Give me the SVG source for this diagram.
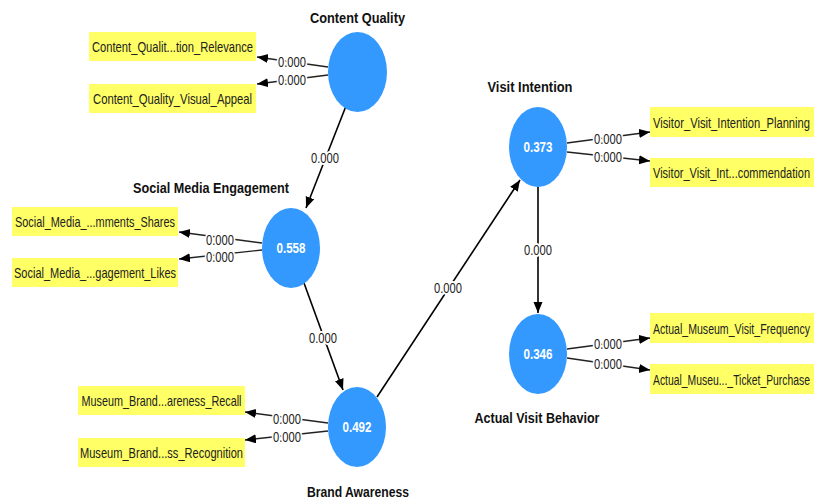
<svg xmlns="http://www.w3.org/2000/svg" width="814" height="504" viewBox="0 0 814 504">
<defs>
<marker id="ah" markerUnits="userSpaceOnUse" markerWidth="12" markerHeight="10" refX="11" refY="4.5" orient="auto">
<path d="M0,0 L11,4.5 L0,9 z" fill="#000"/>
</marker>
<style>
.lv{fill:#3399ff}
.box{fill:#ffff66}
.ind{font-family:"Liberation Sans",Arial,sans-serif;font-size:15px;fill:#222;text-anchor:middle}
.indr{font-family:"Liberation Sans",Arial,sans-serif;font-size:11px;fill:#222;text-anchor:middle}
.inds{font-family:"Liberation Sans",Arial,sans-serif;font-size:10px;fill:#222;text-anchor:middle}
.title{font-family:"Liberation Sans",Arial,sans-serif;font-size:15px;font-weight:bold;fill:#111;text-anchor:middle}
.val{font-family:"Liberation Sans",Arial,sans-serif;font-size:15px;font-weight:bold;fill:#fff;text-anchor:middle}
.el{font-family:"Liberation Sans",Arial,sans-serif;font-size:14px;fill:#222;text-anchor:middle;stroke:#fff;stroke-width:4px;paint-order:stroke;stroke-linejoin:round}
.ln{stroke:#222;stroke-width:1.4;fill:none;marker-end:url(#ah)}
.sl{stroke:#000;stroke-width:1.6;fill:none;marker-end:url(#ah)}
</style>
</defs>
<rect width="814" height="504" fill="#fff"/>

<g id="connectors">
<line class="ln" x1="328" y1="67" x2="257" y2="57"/>
<line class="ln" x1="328" y1="75" x2="257" y2="84"/>
<line class="ln" x1="262" y1="243" x2="179" y2="232"/>
<line class="ln" x1="262" y1="250" x2="179" y2="259"/>
<line class="ln" x1="328" y1="423" x2="245" y2="412"/>
<line class="ln" x1="328" y1="431" x2="245" y2="440"/>
<line class="ln" x1="567" y1="143" x2="650" y2="132"/>
<line class="ln" x1="567" y1="152" x2="650" y2="161"/>
<line class="ln" x1="567" y1="349" x2="650" y2="338"/>
<line class="ln" x1="567" y1="358" x2="650" y2="370"/>
<line class="sl" x1="346" y1="106" x2="306" y2="208"/>
<line class="sl" x1="304" y1="283" x2="343" y2="390"/>
<line class="sl" x1="377" y1="397" x2="520" y2="180"/>
<line class="sl" x1="538" y1="187" x2="538" y2="313"/>
<text class="el" x="292" y="67" textLength="28" lengthAdjust="spacingAndGlyphs">0.000</text>
<text class="el" x="292" y="85" textLength="28" lengthAdjust="spacingAndGlyphs">0.000</text>
<text class="el" x="220" y="245" textLength="28" lengthAdjust="spacingAndGlyphs">0.000</text>
<text class="el" x="220" y="262" textLength="28" lengthAdjust="spacingAndGlyphs">0.000</text>
<text class="el" x="287" y="424" textLength="28" lengthAdjust="spacingAndGlyphs">0.000</text>
<text class="el" x="287" y="442" textLength="28" lengthAdjust="spacingAndGlyphs">0.000</text>
<text class="el" x="608" y="144" textLength="28" lengthAdjust="spacingAndGlyphs">0.000</text>
<text class="el" x="608" y="162" textLength="28" lengthAdjust="spacingAndGlyphs">0.000</text>
<text class="el" x="608" y="349" textLength="28" lengthAdjust="spacingAndGlyphs">0.000</text>
<text class="el" x="608" y="369" textLength="28" lengthAdjust="spacingAndGlyphs">0.000</text>
<text class="el" x="325" y="163" textLength="28" lengthAdjust="spacingAndGlyphs">0.000</text>
<text class="el" x="323" y="343" textLength="28" lengthAdjust="spacingAndGlyphs">0.000</text>
<text class="el" x="448" y="293" textLength="28" lengthAdjust="spacingAndGlyphs">0.000</text>
<text class="el" x="538" y="255" textLength="28" lengthAdjust="spacingAndGlyphs">0.000</text>
</g>

<g id="content_quality">
<ellipse class="lv" cx="357.5" cy="72" rx="29.5" ry="40"/>
<text class="title" x="357.5" y="23" textLength="95" lengthAdjust="spacingAndGlyphs">Content Quality</text>
</g>
<g id="social_media_engagement">
<ellipse class="lv" cx="291" cy="248" rx="29" ry="40"/>
<text class="val" x="291" y="253" textLength="29" lengthAdjust="spacingAndGlyphs">0.558</text>
<text class="title" x="211" y="193" textLength="156" lengthAdjust="spacingAndGlyphs">Social Media Engagement</text>
</g>
<g id="brand_awareness">
<ellipse class="lv" cx="357" cy="427" rx="29" ry="40"/>
<text class="val" x="357" y="432" textLength="29" lengthAdjust="spacingAndGlyphs">0.492</text>
<text class="title" x="358" y="497" textLength="102" lengthAdjust="spacingAndGlyphs">Brand Awareness</text>
</g>
<g id="visit_intention">
<ellipse class="lv" cx="538" cy="147" rx="29" ry="40"/>
<text class="val" x="538" y="152" textLength="29" lengthAdjust="spacingAndGlyphs">0.373</text>
<text class="title" x="530" y="92" textLength="85" lengthAdjust="spacingAndGlyphs">Visit Intention</text>
</g>
<g id="actual_visit_behavior">
<ellipse class="lv" cx="538" cy="354" rx="29" ry="40"/>
<text class="val" x="538" y="359" textLength="29" lengthAdjust="spacingAndGlyphs">0.346</text>
<text class="title" x="537" y="423" textLength="125" lengthAdjust="spacingAndGlyphs">Actual Visit Behavior</text>
</g>

<g id="ind_cq1"><rect class="box" x="89" y="32" width="167" height="29"/><text class="ind" x="172.5" y="52" textLength="161" lengthAdjust="spacingAndGlyphs">Content_Qualit...tion_Relevance</text></g>
<g id="ind_cq2"><rect class="box" x="89" y="84" width="167" height="29"/><text class="ind" x="172.5" y="104" textLength="159" lengthAdjust="spacingAndGlyphs">Content_Quality_Visual_Appeal</text></g>
<g id="ind_sm1"><rect class="box" x="12" y="207" width="166" height="29"/><text class="ind" x="95" y="227" textLength="160" lengthAdjust="spacingAndGlyphs">Social_Media_...mments_Shares</text></g>
<g id="ind_sm2"><rect class="box" x="12" y="258" width="166" height="29"/><text class="ind" x="95" y="278" textLength="162" lengthAdjust="spacingAndGlyphs">Social_Media_...gagement_Likes</text></g>
<g id="ind_ba1"><rect class="box" x="78" y="386" width="167" height="29"/><text class="ind" x="161.5" y="406" textLength="160" lengthAdjust="spacingAndGlyphs">Museum_Brand...areness_Recall</text></g>
<g id="ind_ba2"><rect class="box" x="78" y="438" width="167" height="29"/><text class="ind" x="161.5" y="458" textLength="163" lengthAdjust="spacingAndGlyphs">Museum_Brand...ss_Recognition</text></g>
<g id="ind_vi1"><rect class="box" x="650" y="107" width="164" height="30"/><text class="indr" transform="translate(731.5,127.5) scale(1,1.36)" textLength="157" lengthAdjust="spacingAndGlyphs">Visitor_Visit_Intention_Planning</text></g>
<g id="ind_vi2"><rect class="box" x="650" y="158" width="164" height="29"/><text class="indr" transform="translate(731.5,178) scale(1,1.36)" textLength="157" lengthAdjust="spacingAndGlyphs">Visitor_Visit_Int...commendation</text></g>
<g id="ind_av1"><rect class="box" x="650" y="313" width="164" height="30"/><text class="inds" transform="translate(731.5,333.5) scale(1,1.5)" textLength="157" lengthAdjust="spacingAndGlyphs">Actual_Museum_Visit_Frequency</text></g>
<g id="ind_av2"><rect class="box" x="650" y="364" width="164" height="30"/><text class="inds" transform="translate(731.5,384.5) scale(1,1.5)" textLength="157" lengthAdjust="spacingAndGlyphs">Actual_Museu..._Ticket_Purchase</text></g>
</svg>
